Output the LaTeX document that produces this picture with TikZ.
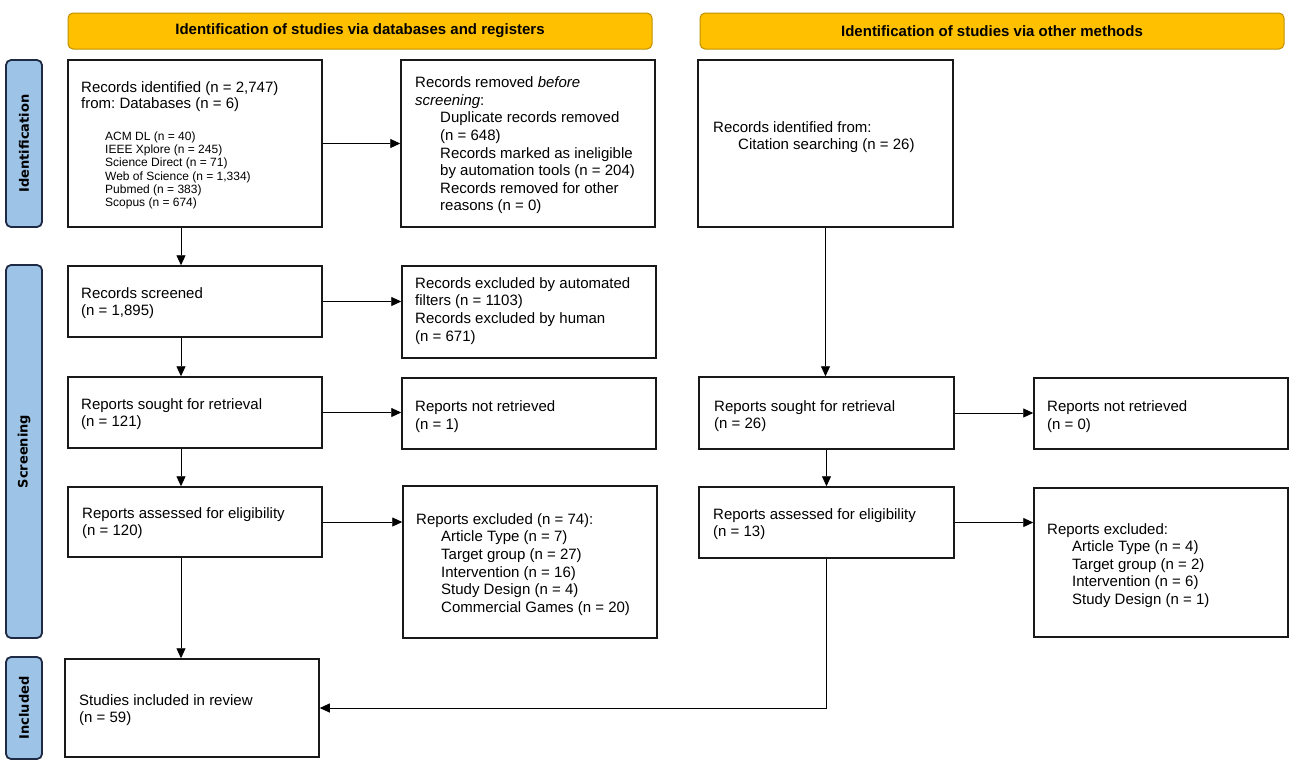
\documentclass[tikz,border=0pt]{standalone}
\usepackage{fontspec}
\setmainfont{Liberation Sans}
\newfontfamily\sidefont{DejaVu Sans}
\usetikzlibrary{arrows.meta,calc}
\definecolor{hdrfill}{HTML}{FFC000}
\definecolor{hdrdraw}{HTML}{BF9000}
\definecolor{sidefill}{HTML}{9DC3E6}
\definecolor{sidedraw}{HTML}{1F2A44}
\newcommand{\tb}[1]{\begin{tabular}[t]{@{}l@{}}#1\end{tabular}}
\newcommand{\ind}{\hspace*{25pt}}
\frenchspacing
\tikzset{
  boxnode/.style={draw=black!90, line width=1.5pt, rectangle, inner sep=0pt, fill=white},
  hdrnode/.style={draw=hdrdraw, line width=1pt, fill=hdrfill, rounded corners=5pt, inner sep=0pt,
     font=\fontsize{15}{18}\selectfont\bfseries},
  sidenode/.style={draw=sidedraw, line width=1.8pt, fill=sidefill, rounded corners=5pt, inner sep=0pt},
  sidetxt/.style={rotate=90, font=\sidefont\fontsize{13}{16}\selectfont\bfseries, inner sep=0pt},
  txt/.style={anchor=base west, inner sep=0pt, font=\fontsize{15}{17.6}\selectfont},
  smalltxt/.style={anchor=base west, inner sep=0pt, font=\fontsize{12}{13.35}\selectfont},
  arr/.style={line width=0.9pt, -{Triangle[length=10pt,width=9pt]}},
}
\begin{document}
\begin{tikzpicture}[x=1pt,y=-1pt]
\useasboundingbox (0,0) rectangle (1298,769);
% headers
\node[hdrnode, minimum width=584pt, minimum height=36pt] (h1) at (360,31) {Identification of studies via databases and registers};
\node[hdrnode, minimum width=584pt, minimum height=36pt] (h2) at (992,31) {Identification of studies via other methods};
% side bars
\node[sidenode, minimum width=36pt, minimum height=167pt] (s1) at (24,143.5) {};
\node[sidetxt] (s1t) at (s1.center) {Identification};
\node[sidenode, minimum width=36pt, minimum height=373pt] (s2) at (24,451.5) {};
\node[sidetxt] (s2t) at (s2.center) {Screening};
\node[sidenode, minimum width=36pt, minimum height=102pt] (s3) at (24,708) {};
\node[sidetxt] (s3t) at (s3.center) {Included};
% boxes
\node[boxnode, minimum width=254pt, minimum height=167pt] (A) at (195,143.5) {};
\node[boxnode, minimum width=254pt, minimum height=167pt] (B) at (528,143.5) {};
\node[boxnode, minimum width=255pt, minimum height=167pt] (C) at (825.5,143.5) {};
\node[boxnode, minimum width=254pt, minimum height=71pt] (D) at (195,301.5) {};
\node[boxnode, minimum width=254pt, minimum height=92pt] (E) at (529,312) {};
\node[boxnode, minimum width=254pt, minimum height=71pt] (F) at (195,412.5) {};
\node[boxnode, minimum width=254pt, minimum height=71pt] (G) at (529,413.5) {};
\node[boxnode, minimum width=255pt, minimum height=72pt] (H) at (826.5,413) {};
\node[boxnode, minimum width=254pt, minimum height=71pt] (I) at (1161,413.5) {};
\node[boxnode, minimum width=254pt, minimum height=70pt] (J) at (195,522) {};
\node[boxnode, minimum width=254pt, minimum height=152pt] (K) at (530,562) {};
\node[boxnode, minimum width=255pt, minimum height=71pt] (L) at (826.5,522.5) {};
\node[boxnode, minimum width=254pt, minimum height=149pt] (M) at (1161,562.5) {};
\node[boxnode, minimum width=254pt, minimum height=98pt] (N) at (192,708) {};
% texts
\node[txt, font=\fontsize{15}{16}\selectfont] (tA) at (81,92.3) {\tb{Records identified (n = 2,747)\\from: Databases (n = 6)}};
\node[smalltxt] (tA2) at (105,140) {\tb{ACM DL (n = 40)\\IEEE Xplore (n = 245)\\Science Direct (n = 71)\\Web of Science (n = 1,334)\\Pubmed (n = 383)\\Scopus (n = 674)}};
\node[txt] (tB) at (415,87.7) {\tb{Records removed \emph{before}\\\emph{screening}:\\\ind Duplicate records removed\\\ind (n = 648)\\\ind Records marked as ineligible\\\ind by automation tools (n = 204)\\\ind Records removed for other\\\ind reasons (n = 0)}};
\node[txt] (tC) at (713,132.3) {\tb{Records identified from:\\\ind Citation searching (n = 26)}};
\node[txt] (tD) at (81,298) {\tb{Records screened\\(n = 1,895)}};
\node[txt] (tE) at (415,288.3) {\tb{Records excluded by automated\\filters (n = 1103)\\Records excluded by human\\(n = 671)}};
\node[txt] (tF) at (81,409) {\tb{Reports sought for retrieval\\(n = 121)}};
\node[txt] (tG) at (415,411.7) {\tb{Reports not retrieved\\(n = 1)}};
\node[txt] (tH) at (714,411) {\tb{Reports sought for retrieval\\(n = 26)}};
\node[txt] (tI) at (1047,411.7) {\tb{Reports not retrieved\\(n = 0)}};
\node[txt] (tJ) at (82,518.3) {\tb{Reports assessed for eligibility\\(n = 120)}};
\node[txt] (tK) at (416,524.3) {\tb{Reports excluded (n = 74):\\\ind Article Type (n = 7)\\\ind Target group (n = 27)\\\ind Intervention (n = 16)\\\ind Study Design (n = 4)\\\ind Commercial Games (n = 20)}};
\node[txt] (tL) at (713,519) {\tb{Reports assessed for eligibility\\(n = 13)}};
\node[txt] (tM) at (1047,534) {\tb{Reports excluded:\\\ind Article Type (n = 4)\\\ind Target group (n = 2)\\\ind Intervention (n = 6)\\\ind Study Design (n = 1)}};
\node[txt] (tN) at (79,705) {\tb{Studies included in review\\(n = 59)}};
% arrows
\draw[arr] (A.east) -- (B.west);
\draw[arr] ([xshift=-14pt]A.south) -- ([xshift=-14pt]D.north);
\draw[arr] (D.east) -- (D.east -| E.west);
\draw[arr] ([xshift=-14pt]D.south) -- ([xshift=-14pt]F.north);
\draw[arr] (F.east) -- (F.east -| G.west);
\draw[arr] ([xshift=-14pt]F.south) -- ([xshift=-14pt]J.north);
\draw[arr] (J.east) -- (J.east -| K.west);
\draw[arr] ([xshift=-14pt]J.south) -- ([xshift=-14pt]J.south |- N.north);
\draw[arr] (C.south) -- (C.south |- H.north);
\draw[arr] (H.east) -- (H.east -| I.west);
\draw[arr] (H.south) -- (H.south |- L.north);
\draw[arr] (L.east) -- (L.east -| M.west);
\draw[arr] (L.south) |- (N.east);
\end{tikzpicture}
\end{document}
